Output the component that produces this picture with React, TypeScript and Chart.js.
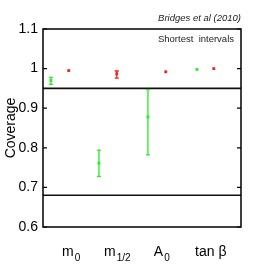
import React, { useEffect, useRef } from "react";
import { Chart, registerables } from "chart.js";

Chart.register(...registerables);

const categoryMain = ["m", "m", "A", "tan β"];
const categorySub = ["0", "1/2", "0", ""];
const categoryPos = [1.07, 2.0, 2.9, 3.89];

const greenX = [0.66, 1.63, 2.62, 3.61];
const greenY = [0.97, 0.761, 0.878, 0.998];
const greenLow = [0.96, 0.728, 0.782, 0.998];
const greenHigh = [0.978, 0.794, 0.947, 0.998];

const redX = [1.02, 1.99, 2.98, 3.95];
const redY = [0.995, 0.987, 0.992, 1.0];
const redLow = [0.995, 0.976, 0.992, 1.0];
const redHigh = [0.995, 0.994, 0.992, 1.0];

const refLines = [0.95, 0.68];
const yTicks = [0.6, 0.7, 0.8, 0.9, 1.0, 1.1];

const GREEN = "#22ee22";
const RED = "#ff1a1a";
const FONT = "'Liberation Sans', Arial, Helvetica, sans-serif";

const decorPlugin = {
  id: "decor",
  beforeDatasetsDraw(chart: any) {
    const ctx = chart.ctx;
    const xs = chart.scales.x;
    const ys = chart.scales.y;
    const ca = chart.chartArea;
    ctx.save();
    ctx.strokeStyle = "#111";
    ctx.lineWidth = 1.6;
    refLines.forEach((v) => {
      const y = ys.getPixelForValue(v);
      ctx.beginPath();
      ctx.moveTo(ca.left, y);
      ctx.lineTo(ca.right, y);
      ctx.stroke();
    });
    const drawErr = (X: number[], L: number[], H: number[], color: string) => {
      ctx.strokeStyle = color;
      ctx.lineWidth = 1.3;
      X.forEach((xv, i) => {
        if (H[i] - L[i] <= 0) return;
        const x = xs.getPixelForValue(xv);
        const y1 = ys.getPixelForValue(L[i]);
        const y2 = ys.getPixelForValue(H[i]);
        ctx.beginPath();
        ctx.moveTo(x, y1);
        ctx.lineTo(x, y2);
        ctx.moveTo(x - 2, y1);
        ctx.lineTo(x + 2, y1);
        ctx.moveTo(x - 2, y2);
        ctx.lineTo(x + 2, y2);
        ctx.stroke();
      });
    };
    drawErr(greenX, greenLow, greenHigh, GREEN);
    drawErr(redX, redLow, redHigh, RED);
    ctx.restore();
  },
  afterDraw(chart: any) {
    const ctx = chart.ctx;
    const xs = chart.scales.x;
    const ys = chart.scales.y;
    const ca = chart.chartArea;
    ctx.save();
    ctx.strokeStyle = "#000";
    ctx.lineWidth = 1.5;
    ctx.strokeRect(ca.left, ca.top, ca.right - ca.left, ca.bottom - ca.top);
    ctx.lineWidth = 1.2;
    yTicks.forEach((v) => {
      const y = ys.getPixelForValue(v);
      ctx.beginPath();
      ctx.moveTo(ca.left, y);
      ctx.lineTo(ca.left + 4, y);
      ctx.moveTo(ca.right, y);
      ctx.lineTo(ca.right - 4, y);
      ctx.stroke();
    });
    ctx.fillStyle = "#000";
    ctx.textBaseline = "alphabetic";
    ctx.textAlign = "left";
    categoryMain.forEach((m, i) => {
      ctx.font = `14px ${FONT}`;
      const wm = ctx.measureText(m).width;
      ctx.font = `10px ${FONT}`;
      const ws = categorySub[i] ? ctx.measureText(categorySub[i]).width + 1 : 0;
      const cx = xs.getPixelForValue(categoryPos[i]);
      const x0 = cx - (wm + ws) / 2;
      ctx.font = `14px ${FONT}`;
      ctx.fillText(m, x0, 256);
      if (categorySub[i]) {
        ctx.font = `10px ${FONT}`;
        ctx.fillText(categorySub[i], x0 + wm + 1, 261);
      }
    });
    ctx.fillStyle = "#222";
    ctx.font = `italic 9.5px ${FONT}`;
    ctx.textAlign = "right";
    ctx.fillText("Bridges et al (2010)", ca.right, 21);
    ctx.font = `9.5px ${FONT}`;
    ctx.fillText("Shortest  intervals", ca.right - 7, 42);
    ctx.restore();
  },
};

export default function App() {
  const ref = useRef<HTMLCanvasElement | null>(null);
  useEffect(() => {
    if (!ref.current) return;
    const chart = new Chart(ref.current, {
      type: "scatter",
      data: {
        datasets: [
          {
            data: greenX.map((x, i) => ({ x, y: greenY[i] })),
            backgroundColor: GREEN,
            borderColor: GREEN,
            pointStyle: "rect",
            pointRadius: 2,
            borderWidth: 0,
          },
          {
            data: redX.map((x, i) => ({ x, y: redY[i] })),
            backgroundColor: RED,
            borderColor: RED,
            pointStyle: "rect",
            pointRadius: 2,
            borderWidth: 0,
          },
        ],
      },
      options: {
        animation: false,
        responsive: true,
        maintainAspectRatio: false,
        layout: { padding: { left: 0, top: 29, right: 25, bottom: 0 } },
        plugins: { legend: { display: false }, tooltip: { enabled: false } },
        scales: {
          x: {
            type: "linear",
            min: 0.5,
            max: 4.5,
            grid: { display: false, drawTicks: false },
            border: { display: false },
            ticks: { display: false },
            afterFit: (s: any) => {
              s.height = 39;
            },
          },
          y: {
            type: "linear",
            min: 0.6,
            max: 1.1,
            grid: { display: false, drawTicks: false },
            border: { display: false },
            afterBuildTicks: (s: any) => {
              s.ticks = yTicks.map((v) => ({ value: v }));
            },
            ticks: {
              color: "#000",
              padding: 5,
              font: { family: FONT, size: 14 },
              callback: (v: any) => String(Number(Number(v).toFixed(2))),
            },
            title: {
              display: true,
              text: "Coverage",
              color: "#000",
              font: { family: FONT, size: 14 },
              padding: { top: 3, bottom: 0 },
            },
            afterFit: (s: any) => {
              s.width = 43;
            },
          },
        },
      },
      plugins: [decorPlugin],
    });
    return () => chart.destroy();
  }, []);
  return (
    <div style={{ position: "fixed", left: 0, top: 0, width: 266, height: 266, background: "#fff" }}>
      <canvas ref={ref} />
    </div>
  );
}
